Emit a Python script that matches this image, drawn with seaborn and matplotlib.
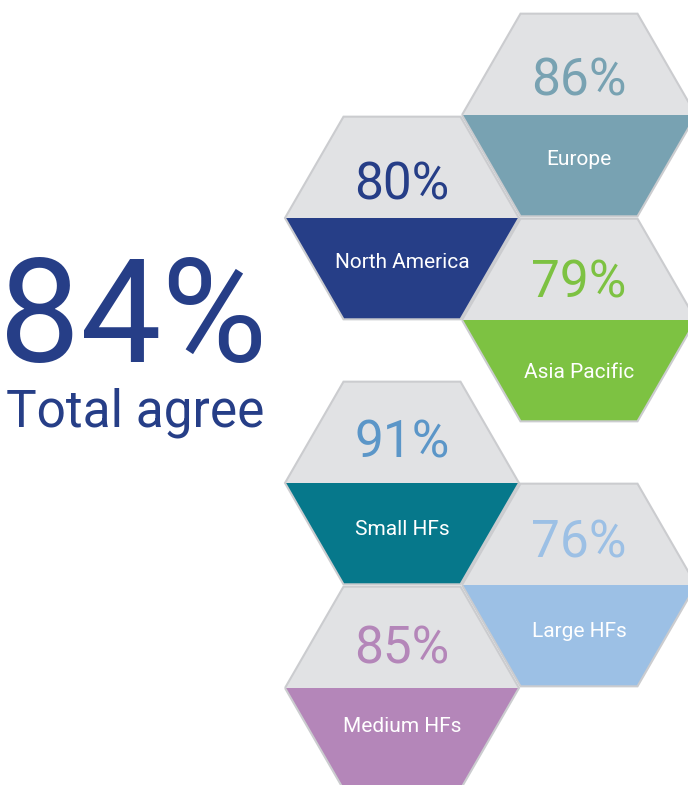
import numpy as np
import matplotlib
matplotlib.use("Agg")
import matplotlib.pyplot as plt
from matplotlib.patches import Polygon
import seaborn as sns

# data
regions = ["North America", "Europe", "Asia Pacific", "Small HFs", "Large HFs", "Medium HFs"]
agree_pct = [80, 86, 79, 91, 76, 85]
total_agree = 84
total_label = "Total agree"

# layout / style
centers = [(402, 218), (579, 115), (579, 320), (402, 483), (579, 585), (402, 688)]
band_colors = ["#263e87", "#78a2b2", "#7dc242", "#06788b", "#9cc0e5", "#b486b9"]
pct_colors = ["#263e87", "#78a2b2", "#7dc242", "#5b96c8", "#9cc0e5", "#b486b9"]
pct_offsets = [-18, -20, -22, -25, -28, -25]
label_offsets = [50, 50, 58, 52, 52, 44]
R = 117
H = np.sqrt(3) / 2 * R
GREY = "#e1e2e4"
EDGE = "#cbcccf"

sns.set_theme(style="white")
plt.rcParams['font.family'] = ['Roboto', 'DejaVu Sans']

fig = plt.figure(figsize=(6.88, 7.85), dpi=100)
ax = fig.add_axes([0, 0, 1, 1])
ax.set_xlim(0, 688)
ax.set_ylim(785, 0)
ax.axis("off")


def hexagon(cx, cy):
    return [(cx - R, cy), (cx - R / 2, cy - H), (cx + R / 2, cy - H),
            (cx + R, cy), (cx + R / 2, cy + H), (cx - R / 2, cy + H)]


for i, region in enumerate(regions):
    cx, cy = centers[i]
    pts = hexagon(cx, cy)
    top = [pts[0], pts[1], pts[2], pts[3]]
    bottom = [pts[3], pts[4], pts[5], pts[0]]
    ax.add_patch(Polygon(top, closed=True, facecolor=GREY, edgecolor="none"))
    ax.add_patch(Polygon(bottom, closed=True, facecolor=band_colors[i], edgecolor="none"))
    ax.add_patch(Polygon(pts, closed=True, facecolor="none", edgecolor=EDGE, lw=1.5, zorder=3))
    ax.text(cx, cy + pct_offsets[i], f"{agree_pct[i]}%", ha="center", va="baseline",
            fontsize=37, color=pct_colors[i], zorder=4)
    ax.text(cx, cy + label_offsets[i], region, ha="center", va="baseline",
            fontsize=15, color="white", zorder=4)

ax.text(133, 362, f"{total_agree}%", ha="center", va="baseline",
        fontsize=104, color="#263e87")
ax.text(135, 427, total_label, ha="center", va="baseline",
        fontsize=37, color="#263e87")

fig.savefig("out.png", dpi=100)
plt.close(fig)
